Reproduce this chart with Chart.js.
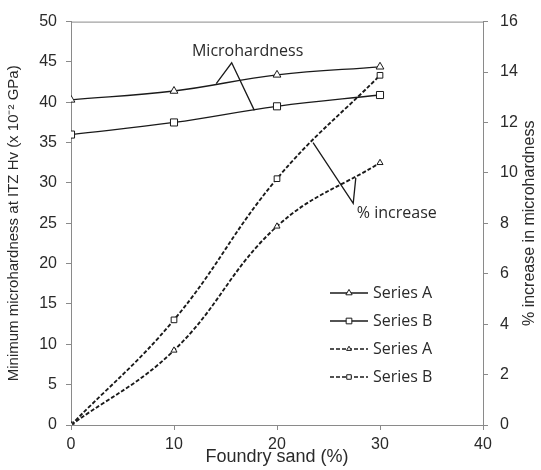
<!DOCTYPE html>
<html>
<head>
<meta charset="utf-8">
<script src="https://cdn.jsdelivr.net/npm/chart.js@4/dist/chart.umd.min.js"></script>
<style>
  html, body { margin: 0; padding: 0; background: #ffffff; }
  #wrap { width: 541px; height: 470px; }
</style>
</head>
<body>
<div id="wrap"><canvas id="c" width="541" height="470"></canvas></div>
<script>
// ---- data ----
const sandPct = [0, 10, 20, 30];
const hardnessA = [40.3, 41.4, 43.4, 44.4];
const hardnessB = [36.0, 37.5, 39.5, 40.9];
const increaseA = [0, 2.96, 7.88, 10.4];
const increaseB = [0, 4.17, 9.77, 13.87];
const seriesNames = ['Series A', 'Series B', 'Series A', 'Series B'];
const xTitle = 'Foundry sand (%)';
const yTitle = 'Minimum microhardness at ITZ Hv (x 10\u207B\u00B2 GPa)';
const y1Title = '% increase in microhardness';
const noteHardness = 'Microhardness';
const noteIncrease = '% increase';

const INK = '#1a1a1a';
const AXIS = '#8a8a8a';
const TXT = '#2a2a2a';
const SANS = '"Liberation Sans", Arial, sans-serif';
const NOTE = '"Open Sans", "Liberation Sans", sans-serif';

function pts(xs, ys) { return xs.map((x, i) => ({ x: x, y: ys[i] })); }

const datasets = [
  { label: seriesNames[0], data: pts(sandPct, hardnessA), yAxisID: 'y', pointStyle: 'triangle', borderDash: [], pointRadius: 4.5, borderWidth: 1.3 },
  { label: seriesNames[1], data: pts(sandPct, hardnessB), yAxisID: 'y', pointStyle: 'rect', borderDash: [], pointRadius: 5, borderWidth: 1.3 },
  { label: seriesNames[2], data: pts(sandPct, increaseA), yAxisID: 'y1', pointStyle: 'triangle', borderDash: [4, 2], pointRadius: 3.5, borderWidth: 1.9 },
  { label: seriesNames[3], data: pts(sandPct, increaseB), yAxisID: 'y1', pointStyle: 'rect', borderDash: [4, 2], pointRadius: 4, borderWidth: 1.9 }
].map(d => Object.assign({
  borderColor: INK,
  backgroundColor: '#ffffff',
  pointBackgroundColor: '#ffffff',
  pointBorderColor: INK,
  pointBorderWidth: 1,
  tension: 0.4,
  fill: false
}, d));

function drawMarker(ctx, style, x, y, r) {
  ctx.save();
  ctx.setLineDash([]);
  ctx.fillStyle = '#ffffff';
  ctx.strokeStyle = INK;
  ctx.lineWidth = 1;
  ctx.beginPath();
  if (style === 'triangle') {
    ctx.moveTo(x, y - r);
    ctx.lineTo(x + r * 0.866, y + r * 0.5);
    ctx.lineTo(x - r * 0.866, y + r * 0.5);
    ctx.closePath();
  } else {
    const s = r * Math.SQRT1_2;
    ctx.rect(x - s, y - s, 2 * s, 2 * s);
  }
  ctx.fill();
  ctx.stroke();
  ctx.restore();
}

const extras = {
  id: 'extras',
  beforeDatasetsDraw(chart) {
    const { ctx, chartArea: a } = chart;
    ctx.save();
    ctx.strokeStyle = AXIS;
    ctx.lineWidth = 1;
    ctx.beginPath();
    ctx.moveTo(a.left, a.top + 0.5);
    ctx.lineTo(a.right, a.top + 0.5);
    ctx.stroke();
    ctx.restore();
  },
  afterDatasetsDraw(chart) {
    const { ctx } = chart;
    const sx = chart.scales.x, sy = chart.scales.y, sy1 = chart.scales.y1;
    ctx.save();
    ctx.strokeStyle = INK;
    ctx.lineWidth = 1.3;
    ctx.setLineDash([]);
    // Microhardness leaders (left axis units)
    ctx.beginPath();
    ctx.moveTo(sx.getPixelForValue(14.1), sy.getPixelForValue(42.3));
    ctx.lineTo(sx.getPixelForValue(15.6), sy.getPixelForValue(44.9));
    ctx.lineTo(sx.getPixelForValue(17.8), sy.getPixelForValue(39.0));
    ctx.stroke();
    // % increase leaders (right axis units)
    ctx.beginPath();
    ctx.moveTo(sx.getPixelForValue(23.5), sy1.getPixelForValue(11.2));
    ctx.lineTo(sx.getPixelForValue(27.4), sy1.getPixelForValue(8.79));
    ctx.lineTo(sx.getPixelForValue(27.65), sy1.getPixelForValue(9.8));
    ctx.stroke();

    ctx.fillStyle = TXT;
    ctx.font = '16px ' + NOTE;
    ctx.textBaseline = 'middle';
    ctx.textAlign = 'center';
    ctx.fillText(noteHardness, sx.getPixelForValue(17.15), sy.getPixelForValue(46.3));
    ctx.textAlign = 'left';
    ctx.fillText(noteIncrease, sx.getPixelForValue(27.75), sy1.getPixelForValue(8.4));

    // legend
    const rowY = [293, 321, 349, 377];
    chart.data.datasets.forEach((d, i) => {
      const y = rowY[i];
      ctx.save();
      ctx.strokeStyle = INK;
      ctx.lineWidth = Math.min(d.borderWidth, 1.5);
      ctx.setLineDash(d.borderDash);
      ctx.beginPath();
      ctx.moveTo(330, y);
      ctx.lineTo(368, y);
      ctx.stroke();
      ctx.restore();
      drawMarker(ctx, d.pointStyle, 349, y, d.pointRadius * 0.8);
      ctx.fillStyle = TXT;
      ctx.font = '16px ' + NOTE;
      ctx.textAlign = 'left';
      ctx.textBaseline = 'middle';
      ctx.fillText(d.label, 373, y);
    });

    // right axis title, reading bottom to top
    ctx.save();
    ctx.translate(530, (chart.chartArea.top + chart.chartArea.bottom) / 2);
    ctx.rotate(-Math.PI / 2);
    ctx.fillStyle = TXT;
    ctx.font = '16px ' + SANS;
    ctx.textAlign = 'center';
    ctx.textBaseline = 'middle';
    ctx.fillText(y1Title, 0, 0);
    ctx.restore();
    ctx.restore();
  }
};

const axisCommon = {
  grid: { display: true, drawOnChartArea: false, drawTicks: true, tickLength: 5, color: AXIS },
  border: { display: true, color: AXIS, width: 1 }
};

new Chart(document.getElementById('c'), {
  type: 'line',
  data: { datasets: datasets },
  options: {
    responsive: false,
    animation: false,
    devicePixelRatio: 1,
    layout: { padding: { top: 15, left: 0, right: 0, bottom: 0 } },
    plugins: { legend: { display: false }, tooltip: { enabled: false } },
    scales: {
      x: Object.assign({}, axisCommon, {
        type: 'linear', min: 0, max: 40,
        ticks: { stepSize: 10, color: TXT, font: { family: SANS, size: 16 }, padding: 5, maxRotation: 0 },
        title: { display: true, text: xTitle, color: TXT, font: { family: SANS, size: 18 }, padding: { top: 0, bottom: 2 } },
        afterFit(s) { s.height = 45; }
      }),
      y: Object.assign({}, axisCommon, {
        type: 'linear', position: 'left', min: 0, max: 50,
        ticks: { stepSize: 5, color: TXT, font: { family: SANS, size: 16 }, padding: 9 },
        title: { display: true, text: yTitle, color: TXT, font: { family: SANS, size: 15 }, padding: { top: 5, bottom: 0 } },
        afterFit(s) { s.width = 71; }
      }),
      y1: Object.assign({}, axisCommon, {
        type: 'linear', position: 'right', min: 0, max: 16,
        ticks: { stepSize: 2, color: TXT, font: { family: SANS, size: 16 }, padding: 12 },
        title: { display: false },
        afterFit(s) { s.width = 58; }
      })
    }
  },
  plugins: [extras]
});
</script>
</body>
</html>
